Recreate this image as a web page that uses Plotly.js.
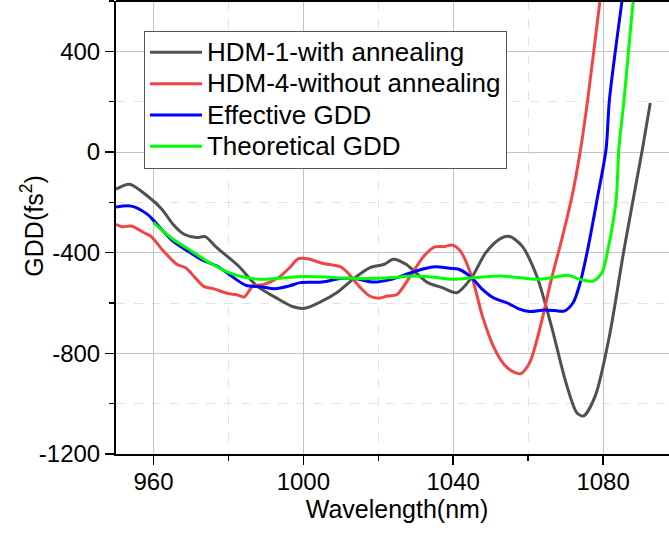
<!DOCTYPE html>
<html>
<head>
<meta charset="utf-8">
<script src="https://cdn.plot.ly/plotly-3.0.1.min.js"></script>
<style>html,body{margin:0;padding:0;background:#fff;overflow:hidden;width:669px;height:533px}#chart{width:678px;height:533px}</style>
</head>
<body>
<div id="chart"></div>
<script>
const seriesNames = ["HDM-1-with annealing", "HDM-4-without annealing", "Effective GDD", "Theoretical GDD"];

const xTickVals = [960, 1000, 1040, 1080];
const xTickText = ["960", "1000", "1040", "1080"];
const yTickVals = [-1200, -800, -400, 0, 400];
const yTickText = ["-1200", "-800", "-400", "0", "400"];

const hdm1X = [950, 953.6, 958.4, 962.3, 965.2, 968.2, 971.6, 973.8, 976.9, 982.7, 987.6, 993.4, 997.3, 1000.4, 1004.1, 1008.9, 1013.8, 1017.7, 1021.6, 1024, 1027.4, 1033.2, 1037.1, 1041, 1044.9, 1048.7, 1052.6, 1055.1, 1058.4, 1062.3, 1066.2, 1070.1, 1073, 1074.8, 1077.9, 1081.7, 1085.6, 1090.5, 1092.6];
const hdm1Y = [-148, -128, -175, -228, -287, -327, -340, -336, -380, -453, -532, -585, -615, -621, -599, -559, -499, -460, -446, -426, -446, -519, -539, -559, -499, -400, -344, -336, -374, -493, -691, -917, -1036, -1049, -970, -731, -387, 11, 195];

const hdm4X = [950, 951.7, 954.1, 957.5, 959.4, 962.3, 966.2, 968.6, 971.1, 973.5, 975.9, 979.8, 982.2, 984.2, 986.6, 989.5, 993.4, 996.3, 998.7, 1001.2, 1005, 1009.9, 1011.8, 1014.8, 1017.7, 1020.1, 1022.5, 1025, 1028.3, 1032.2, 1035.1, 1037.6, 1039.8, 1041.9, 1044.9, 1047.8, 1050.7, 1053.6, 1056.1, 1058, 1060.4, 1063.3, 1066.2, 1069.2, 1071.8, 1074, 1075.9, 1079.2, 1080];
const hdm4Y = [-287, -297, -294, -321, -336, -387, -446, -460, -499, -535, -543, -562, -567, -576, -532, -526, -499, -460, -424, -424, -442, -456, -479, -532, -572, -581, -572, -566, -499, -413, -377, -376, -370, -393, -493, -652, -771, -844, -874, -881, -837, -691, -506, -334, -170, 11, 208, 605, 700];

const effX = [950, 954.1, 958.4, 960.4, 965.2, 969.1, 973, 976.9, 980.8, 984.7, 988.5, 992.4, 996.3, 999.2, 1005, 1009.9, 1013.8, 1018.6, 1023.5, 1028.3, 1032.2, 1035.1, 1039, 1041.5, 1044.9, 1047.8, 1050.7, 1054.6, 1057.5, 1060.4, 1064.3, 1067.2, 1069.6, 1072, 1073.9, 1075.9, 1078.4, 1080.8, 1081.7, 1085.1, 1086];
const effY = [-219, -215, -248, -278, -354, -393, -429, -453, -493, -530, -535, -543, -532, -519, -517, -503, -503, -517, -506, -482, -464, -456, -462, -466, -499, -546, -579, -601, -623, -634, -628, -630, -632, -599, -519, -387, -189, 11, 208, 605, 700];

const theoX = [960, 965.2, 970.1, 975, 979.8, 984.7, 989.5, 994.4, 1000.2, 1006, 1011.8, 1017.7, 1023.5, 1029.3, 1035.1, 1040, 1045.8, 1052.6, 1057.5, 1062.3, 1067.2, 1070.6, 1073.9, 1077.3, 1079.7, 1081.3, 1083.5, 1084.2, 1085.6, 1088.1, 1089];
const theoY = [-281, -347, -393, -440, -477, -499, -506, -501, -495, -497, -502, -503, -499, -493, -498, -506, -499, -493, -499, -506, -497, -490, -506, -513, -480, -387, -189, 11, 208, 605, 700];

const colors = ["#505050", "#f24444", "#0000ff", "#00ff00"];

const xs = [hdm1X, hdm4X, effX, theoX];
const ys = [hdm1Y, hdm4Y, effY, theoY];

const traces = xs.map((x, i) => ({
  x: x, y: ys[i], name: '<span style="font-size:26px">' + seriesNames[i] + '</span>',
  type: "scatter", mode: "lines",
  line: {color: colors[i], width: 3, shape: "spline", smoothing: 0.8}
}));

const font = "Liberation Sans, Arial, sans-serif";

const layout = {
  width: 678, height: 533,
  margin: {l: 116, r: 0, t: 1, b: 79},
  paper_bgcolor: "#fff", plot_bgcolor: "#fff",
  showlegend: true,
  font: {family: font, color: "#000", size: 24},
  xaxis: {
    range: [950, 1100], tickmode: "array", tickvals: xTickVals, ticktext: xTickText,
    showline: true, linecolor: "#000", linewidth: 2,
    ticks: "outside", ticklen: 9, tickwidth: 1.5, tickcolor: "#000",
    ticklabelstandoff: -4,
    showgrid: true, gridcolor: "#c4c4c4", gridwidth: 1,
    zeroline: false,
    tickfont: {family: font, size: 24, color: "#000"},
    minor: {dtick: 20, tick0: 960, ticks: "outside", ticklen: 5, tickwidth: 1.5, tickcolor: "#000", showgrid: true, gridcolor: "#e2e2e2", griddash: "dash", gridwidth: 1},
    title: {text: "Wavelength(nm)", font: {family: font, size: 25, color: "#000"}, standoff: 4}
  },
  yaxis: {
    range: [-1200, 600], tickmode: "array", tickvals: yTickVals, ticktext: yTickText,
    showline: true, linecolor: "#000", linewidth: 2,
    ticks: "outside", ticklen: 9, tickwidth: 1.5, tickcolor: "#000",
    showgrid: true, gridcolor: "#c4c4c4", gridwidth: 1,
    zeroline: false,
    tickfont: {family: font, size: 24, color: "#000"},
    minor: {dtick: 200, tick0: 0, ticks: "outside", ticklen: 5, tickwidth: 1.5, tickcolor: "#000", showgrid: true, gridcolor: "#e2e2e2", griddash: "dash", gridwidth: 1}
  },
  legend: {
    x: 0.0498, y: 0.9345, xanchor: "left", yanchor: "top",
    bgcolor: "#fff", bordercolor: "#555", borderwidth: 1,
    font: {family: font, size: 21.8, color: "#000"},
    tracegroupgap: 0, itemwidth: 52
  },
  annotations: [
    {text: "GDD(fs<sup>2</sup>)", xref: "paper", yref: "paper", x: -0.1495, y: 0.504,
     xanchor: "center", yanchor: "middle", textangle: -90, showarrow: false,
     font: {family: font, size: 25, color: "#000"}}
  ],
  shapes: [
    {type: "line", xref: "paper", yref: "paper", x0: 0, x1: 1, y0: 1, y1: 1, line: {color: "#000", width: 2}}
  ]
};

Plotly.newPlot("chart", traces, layout, {displayModeBar: false, staticPlot: true});
</script>
</body>
</html>
